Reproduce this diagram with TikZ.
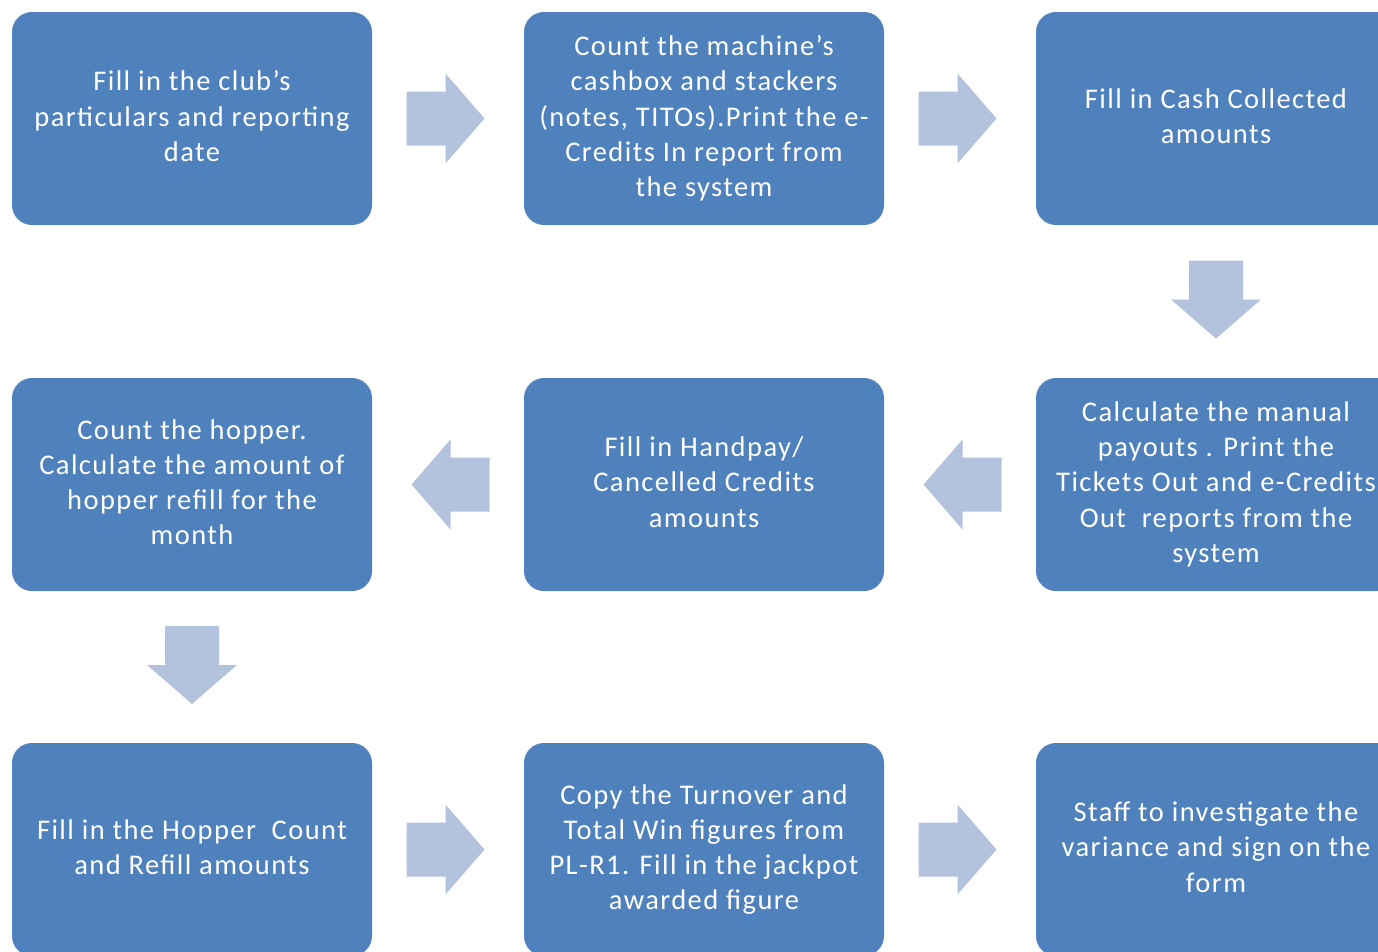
\documentclass[tikz,border=0pt]{standalone}
\usepackage{fontspec}
\setmainfont{Carlito}[LetterSpace=5.0]
\usetikzlibrary{calc}
\definecolor{stepblue}{HTML}{4F81BD}
\definecolor{arrowblue}{HTML}{B3C3DE}
\tikzset{
  stepbox/.style={fill=stepblue, text=white, rounded corners=20pt,
    minimum width=360pt, minimum height=213pt, align=center,
    inner sep=0pt, text depth=5pt, font=\fontsize{28.5}{35.2}\selectfont},
  barrow/.pic={
    \fill[arrowblue] (-39,-27) -- (0,-27) -- (0,-45) -- (39,0)
      -- (0,45) -- (0,27) -- (-39,27) -- cycle;
  }
}
\begin{document}
\begin{tikzpicture}[x=1pt,y=-1pt]
\useasboundingbox (0,0) rectangle (1378,951);
\clip (0,0) rectangle (1378,951);

% row 1
\node[stepbox] (b1) at (192,118.5) {Fill in the club’s\\particulars and reporting\\date};
\node[stepbox] (b2) at (704,118.5) {Count the machine’s\\cashbox and stackers\\(notes, TITOs).Print the e-\\Credits In report from\\the system};
\node[stepbox] (b3) at (1216,118.5) {Fill in Cash Collected\\amounts};
% row 2
\node[stepbox] (b4) at (1216,484.5) {Calculate the manual\\payouts . Print the\\Tickets Out and e-Credits\\Out\ \ reports from the\\system};
\node[stepbox] (b5) at (704,484.5) {Fill in Handpay/\\Cancelled Credits\\amounts};
\node[stepbox] (b6) at (192,484.5) {Count the hopper.\\Calculate the amount of\\hopper refill for the\\month};
% row 3
\node[stepbox] (b7) at (192,849.5) {Fill in the Hopper\ \ Count\\and Refill amounts};
\node[stepbox] (b8) at (704,849.5) {Copy the Turnover and\\Total Win figures from\\PL-R1. Fill in the jackpot\\awarded figure};
\node[stepbox] (b9) at (1216,849.5) {Staff to investigate the\\variance and sign on the\\form};

% block arrows between the steps
\pic at ($(b1.east)!0.5!(b2.west)+(-2.5,0)$) {barrow};
\pic at ($(b2.east)!0.5!(b3.west)+(-2.5,0)$) {barrow};
\pic[rotate=-90] at ($(b3.south)!0.5!(b4.north)+(0,-2)$) {barrow};
\pic[rotate=180] at ($(b4.west)!0.5!(b5.east)+(2.5,0)$) {barrow};
\pic[rotate=180] at ($(b5.west)!0.5!(b6.east)+(2.5,0)$) {barrow};
\pic[rotate=-90] at ($(b6.south)!0.5!(b7.north)+(0,-2)$) {barrow};
\pic at ($(b7.east)!0.5!(b8.west)+(-2.5,0)$) {barrow};
\pic at ($(b8.east)!0.5!(b9.west)+(-2.5,0)$) {barrow};
\end{tikzpicture}
\end{document}
